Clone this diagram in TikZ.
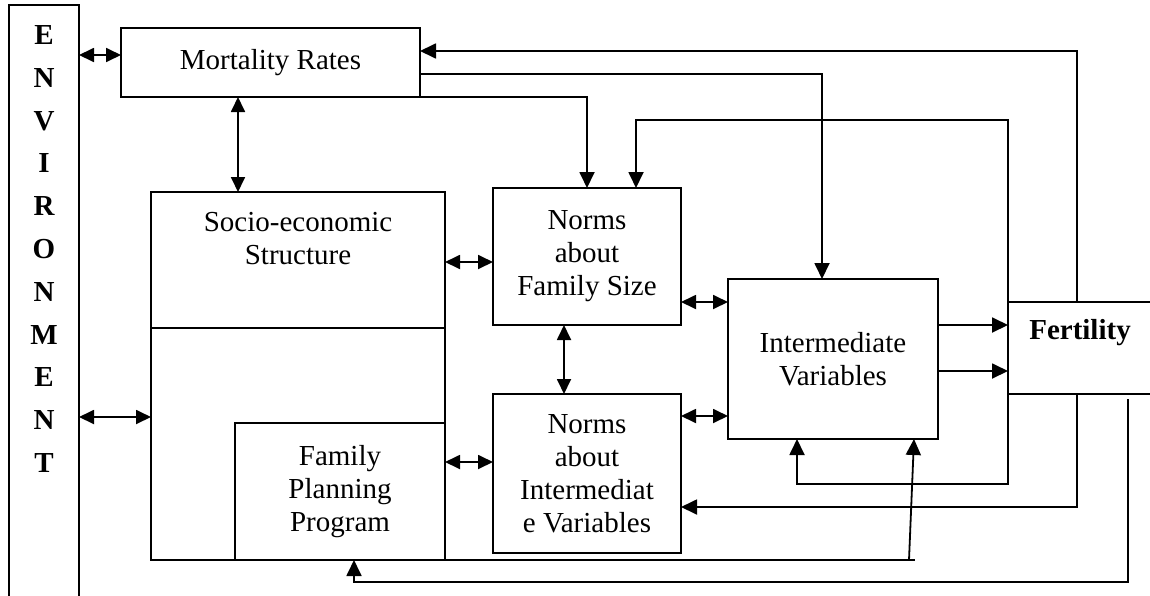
\documentclass[tikz,border=0pt]{standalone}
\usepackage{fontspec}
\setmainfont{Liberation Serif}
\usetikzlibrary{arrows.meta}

\tikzset{
  box/.style={draw, line width=0.9pt, inner sep=0pt, outer sep=0pt, align=center},
  link/.style={line width=0.9pt},
  arr/.style={link, -{Triangle[length=8pt,width=7.5pt]}},
  dbl/.style={link, {Triangle[length=7.5pt,width=7pt]}-{Triangle[length=7.5pt,width=7pt]}},
}

\begin{document}
\begin{tikzpicture}[x=0.5pt, y=-0.5pt, every node/.style={font=\fontsize{14.5}{16.5}\selectfont}]
    \useasboundingbox (0,0) rectangle (1150,595);
    % boxes
    \node[box, minimum width=35pt, minimum height=305pt] (env) at (44,310) {};
    \node[font=\fontsize{14.5}{21.4}\selectfont\bfseries, align=center] (envtxt) at (44,249) {E\\N\\V\\I\\R\\O\\N\\M\\E\\N\\T};
    \node[box, minimum width=149.5pt, minimum height=34.5pt] (mort) at (270.5,62.5) {Mortality Rates};
    \node[box, minimum width=147pt, minimum height=68pt] (socio) at (298,260) {};
    \node[align=center] (sociotxt) at (298,239) {Socio-economic\\Structure};
    \node[box, minimum width=105pt, minimum height=68.5pt] (fp) at (340,491.5) {Family\\Planning\\Program};
    \node[box, minimum width=94pt, minimum height=68.5pt] (nfs) at (587,256.5) {Norms\\about\\Family Size};
    \node[box, minimum width=94pt, minimum height=79.5pt] (niv) at (587,473.5) {Norms\\about\\Intermediat\\e Variables};
    \node[box, minimum width=105pt, minimum height=80pt] (iv) at (833,359) {Intermediate\\Variables};
    \node[box, minimum width=81pt, minimum height=46pt] (fert) at (1089,348) {};
    \node[font=\fontsize{14.5}{16.5}\selectfont\bfseries] (ferttxt) at (1080,333) {Fertility};
    % lower part of the socio-economic box
    \draw[link] (socio.south west) |- (fp.south west);
    \draw[link] (socio.south east) -- (fp.north east);
    % two-way links
    \draw[dbl] (env.east |- 0,55) -- (mort.west |- 0,55);
    \draw[dbl] (env.east |- 0,417) -- (socio.west |- 0,417);
    \draw[dbl] (mort.south -| 238,0) -- (socio.north -| 238,0);
    \draw[dbl] (socio.east |- 0,262) -- (nfs.west |- 0,262);
    \draw[dbl] (fp.east |- 0,462) -- (niv.west |- 0,462);
    \draw[dbl] (nfs.south -| 564,0) -- (niv.north -| 564,0);
    \draw[dbl] (nfs.east |- 0,302) -- (iv.west |- 0,302);
    \draw[dbl] (niv.east |- 0,416) -- (iv.west |- 0,416);
    % one-way links
    \draw[arr] (mort.south east) -| (nfs.north);
    \draw[arr] (mort.east |- 0,74) -| (iv.north -| 822,0);
    \draw[arr] (iv.east |- 0,325) -- (fert.west |- 0,325);
    \draw[arr] (iv.east |- 0,371) -- (fert.west |- 0,371);
    \draw[arr] (fert.north -| 1077,0) |- (mort.east |- 0,51);
    \draw[arr] (fert.north west) -- (fert.west |- 0,120) -| (nfs.north -| 636,0);
    \draw[arr] (fert.south west) -- (fert.west |- 0,484) -| (iv.south -| 797,0);
    \draw[arr] (fert.south -| 1077,0) |- (niv.east |- 0,507);
    \coordinate (fb) at (1128,399);
    \draw[arr] (fb) -- (1128,582) -| (fp.south -| 354,0);
    \draw[link] (fp.south east) -- (915,560);
    \draw[arr] (909,560) -- (iv.south -| 914,0);
\end{tikzpicture}
\end{document}
